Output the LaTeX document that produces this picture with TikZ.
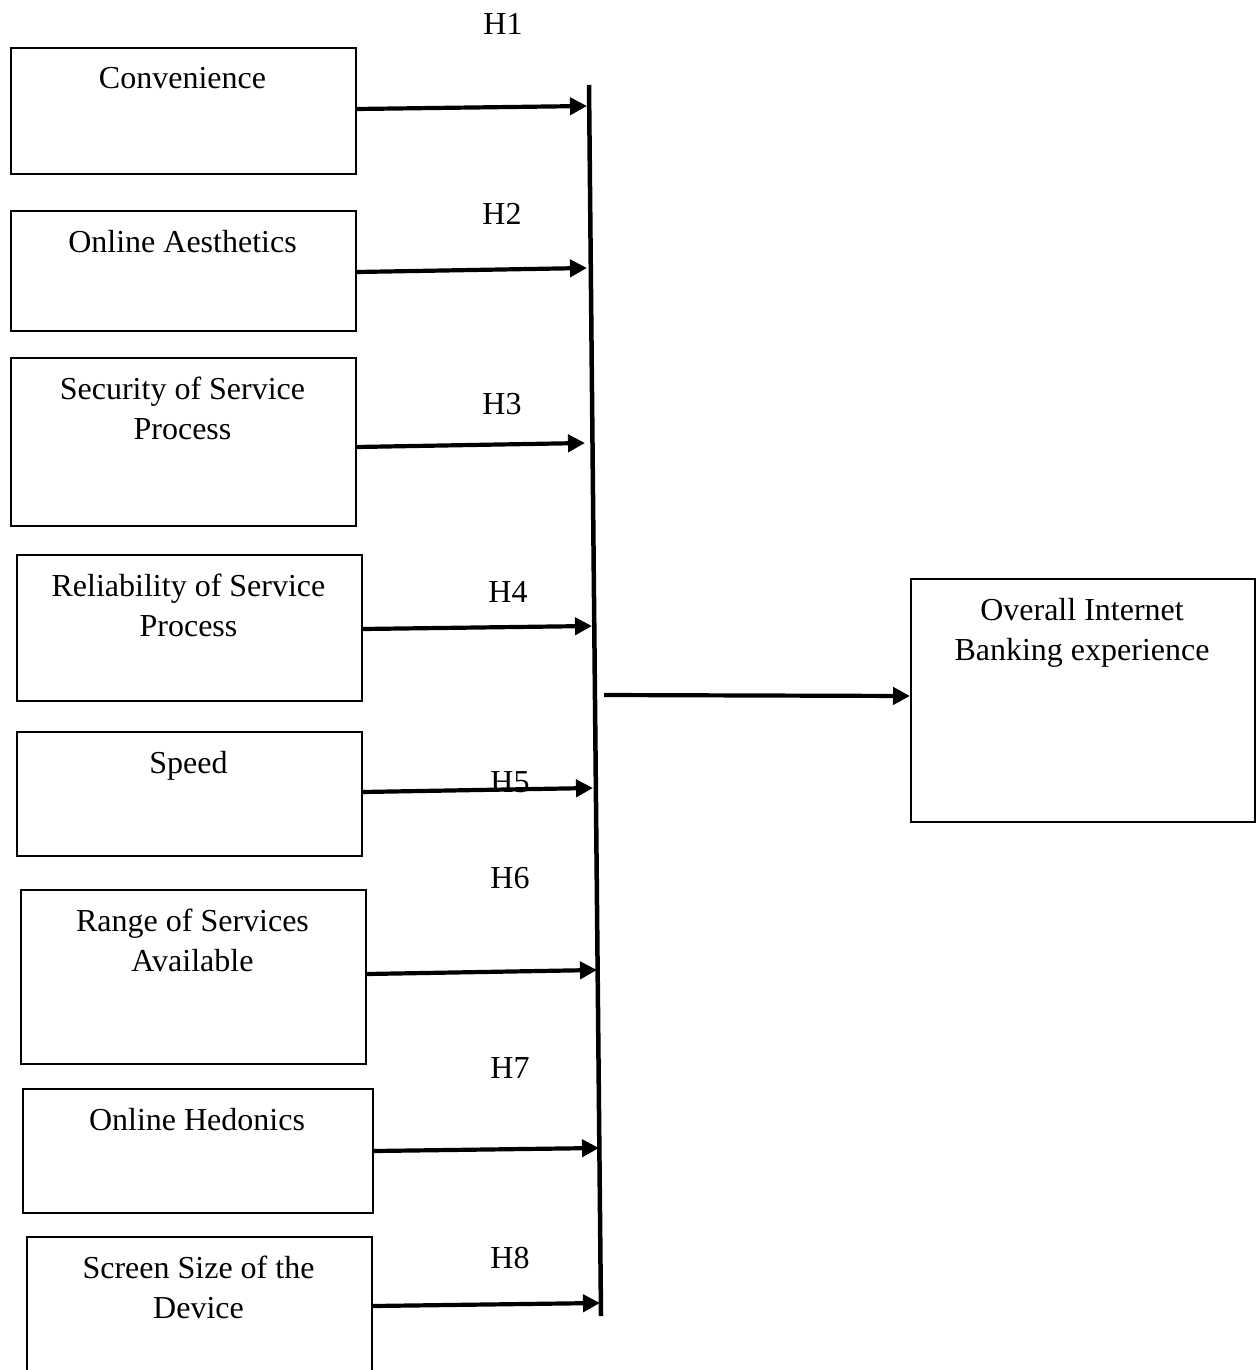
\documentclass[tikz,border=0pt]{standalone}
\usepackage{fontspec}
\setmainfont{Liberation Serif}
\usetikzlibrary{arrows.meta}
\begin{document}
\begin{tikzpicture}[x=1pt,y=-1pt,
  box/.style={draw, line width=2pt, inner sep=0pt, anchor=north west},
  lbl/.style={font=\fontsize{32}{40}\selectfont, align=center, anchor=north, inner sep=0pt},
  hyp/.style={font=\fontsize{32}{40}\selectfont, anchor=base, inner sep=0pt},
  arr/.style={line width=4.2pt, -{Triangle[length=17pt,width=17pt]}},
  bar/.style={line width=4.5pt}]
\useasboundingbox (0,0) rectangle (1256,1370);
\clip (0,0) rectangle (1256,1370);
% boxes
\node[box, minimum width=345pt, minimum height=126pt] (b1) at (10,47) {};
\node[box, minimum width=345pt, minimum height=120pt] (b2) at (10,210) {};
\node[box, minimum width=345pt, minimum height=168pt] (b3) at (10,357) {};
\node[box, minimum width=345pt, minimum height=146pt] (b4) at (16,554) {};
\node[box, minimum width=345pt, minimum height=124pt] (b5) at (16,731) {};
\node[box, minimum width=345pt, minimum height=174pt] (b6) at (20,889) {};
\node[box, minimum width=350pt, minimum height=124pt] (b7) at (22,1088) {};
\node[box, minimum width=345pt, minimum height=138pt] (b8) at (26,1236) {};
\node[box, minimum width=344pt, minimum height=243pt] (ov) at (910,578) {};
% box texts
\node[lbl] (t1) at (182.5,67) {Convenience};
\node[lbl] (t2) at (182.5,230) {Online Aesthetics};
\node[lbl] (t3) at (182.5,377) {Security of Service\\Process};
\node[lbl] (t4) at (188.5,574) {Reliability of Service\\Process};
\node[lbl] (t5) at (188.5,751) {Speed};
\node[lbl] (t6) at (192.5,909) {Range of Services\\Available};
\node[lbl] (t7) at (197,1108) {Online Hedonics};
\node[lbl] (t8) at (198.5,1256) {Screen Size of the\\Device};
\node[lbl] (tov) at (1082,598) {Overall Internet\\Banking experience};
% vertical bar
\coordinate (vt) at (589,85);
\coordinate (vb) at (601,1316);
\draw[bar] (vt) -- (vb);
% arrow ends
\coordinate (e1) at (587,106);
\coordinate (e2) at (587,268);
\coordinate (e3) at (585,443);
\coordinate (e4) at (592,626);
\coordinate (e5) at (593,788);
\coordinate (e6) at (597,970);
\coordinate (e7) at (599,1148);
\coordinate (e8) at (600,1303);
\coordinate (ms) at (604,695);
% arrows
\draw[arr] ([yshift=2pt]b1.east) -- (e1);
\draw[arr] ([yshift=-1pt]b2.east) -- (e2);
\draw[arr] ([yshift=-5pt]b3.east) -- (e3);
\draw[arr] ([yshift=-1pt]b4.east) -- (e4);
\draw[arr] ([yshift=2pt]b5.east) -- (e5);
\draw[arr] ([yshift=3pt]b6.east) -- (e6);
\draw[arr] (b7.east) -- (e7);
\draw[arr] (b8.east) -- (e8);
\draw[arr] (ms) -- ([yshift=4.5pt]ov.west);
% hypothesis labels
\node[hyp] (h1) at (503,35) {H1};
\node[hyp] (h2) at (502,224) {H2};
\node[hyp] (h3) at (502,414) {H3};
\node[hyp] (h4) at (508,602) {H4};
\node[hyp] (h5) at (510,792) {H5};
\node[hyp] (h6) at (510,888) {H6};
\node[hyp] (h7) at (510,1078) {H7};
\node[hyp] (h8) at (510,1268) {H8};
\end{tikzpicture}
\end{document}
